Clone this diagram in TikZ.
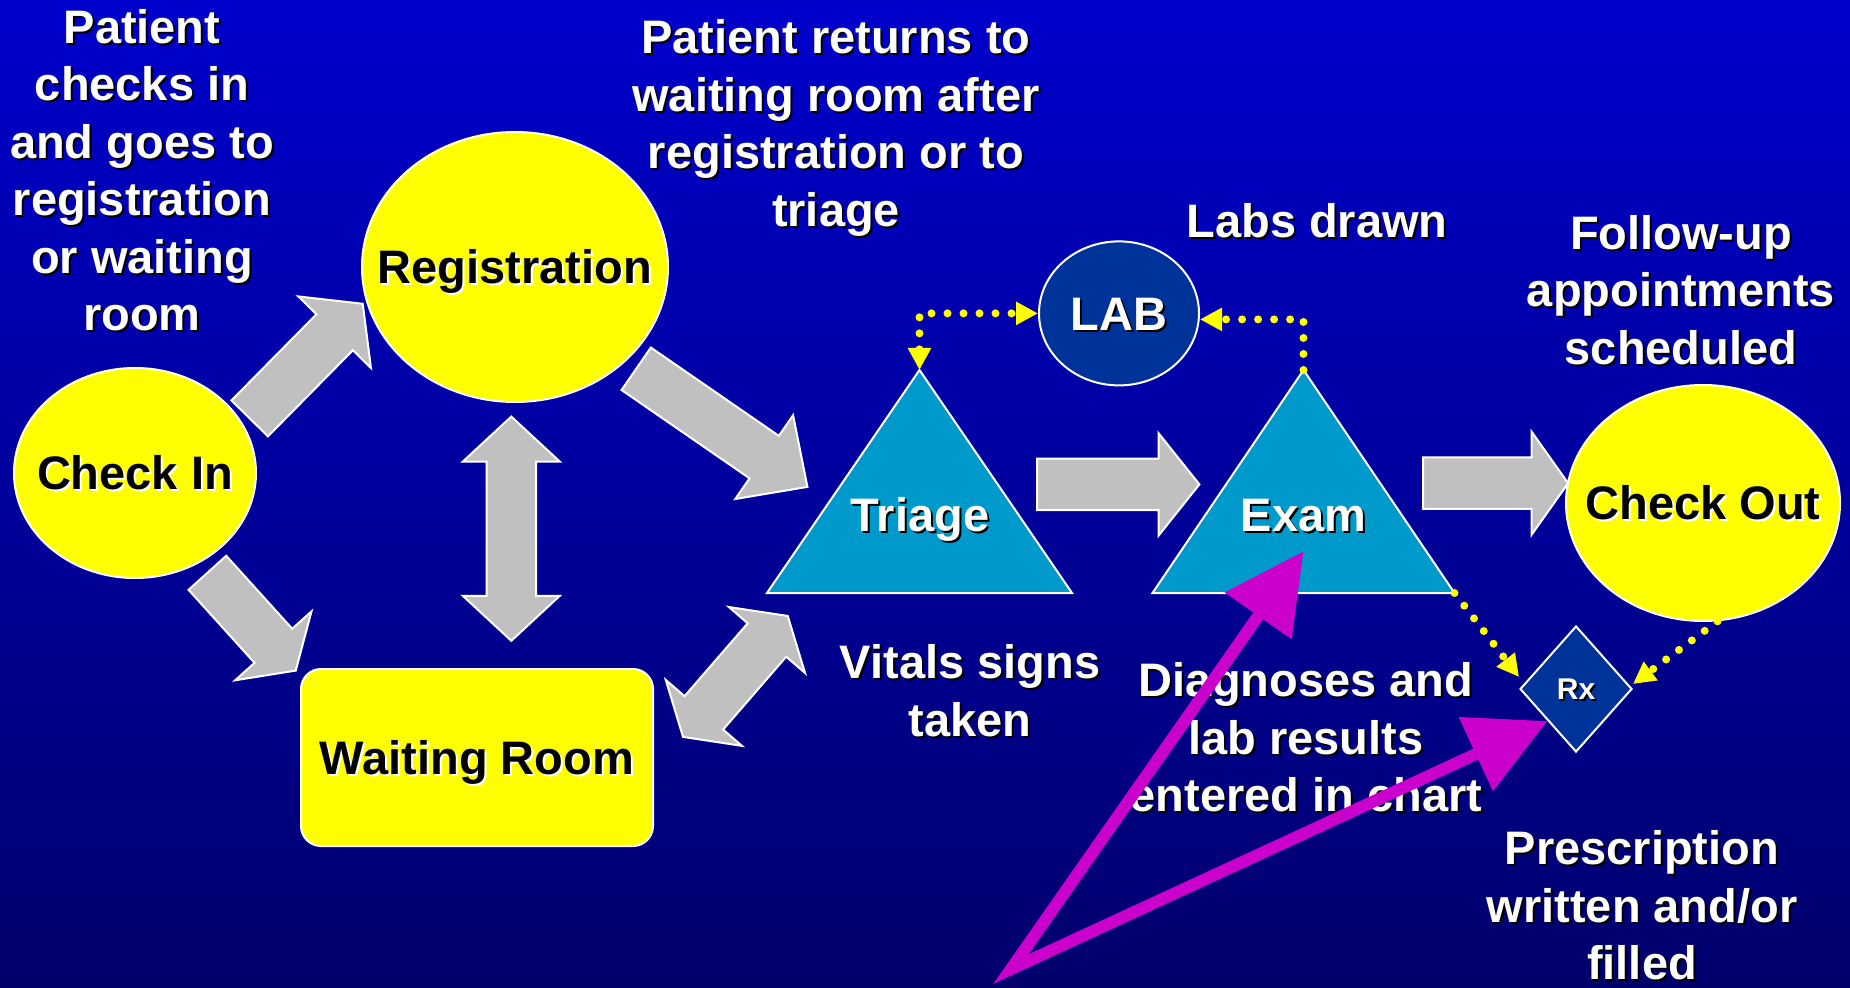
\documentclass[tikz,border=0pt]{standalone}
\usepackage{fontspec}
\setmainfont{Liberation Sans}
\usetikzlibrary{shapes.geometric,arrows.meta}
\definecolor{bgtop}{RGB}{0,0,204}
\definecolor{bgbot}{RGB}{0,0,108}
\definecolor{ylw}{RGB}{255,255,0}
\definecolor{navybox}{RGB}{0,51,153}
\definecolor{triblue}{RGB}{0,153,204}
\definecolor{gry}{RGB}{192,192,192}
\definecolor{magc}{RGB}{204,0,204}
\newcommand\bigfont{\fontsize{23.5pt}{28.75pt}\selectfont\bfseries}
\newcommand\rxfont{\fontsize{15pt}{18pt}\selectfont\bfseries}
\newcommand\shd[2]{\leavevmode\rlap{\hspace{1pt}\raisebox{-1pt}{\color{#1}#2}}#2}
\newcommand\wl[1]{\rule{0pt}{17.625pt}\shd{black}{#1}}
% single block arrow: tail x, tail y, angle, length, half shaft, half head, head length
\newcommand\garrow[7]{%
\begin{scope}[shift={(#1,#2)},rotate=#3]
\draw[blockarrow] (0,-#5) -- ({#4-#7},-#5) -- ({#4-#7},-#6) -- (#4,0) -- ({#4-#7},#6) -- ({#4-#7},#5) -- (0,#5) -- cycle;
\end{scope}}
% double block arrow: first tip x, y, angle, length, half shaft, half head, head length
\newcommand\gdarrow[7]{%
\begin{scope}[shift={(#1,#2)},rotate=#3]
\draw[blockarrow] (0,0) -- (#7,#6) -- (#7,#5) -- ({#4-#7},#5) -- ({#4-#7},#6) -- (#4,0) -- ({#4-#7},-#6) -- ({#4-#7},-#5) -- (#7,-#5) -- (#7,-#6) -- cycle;
\end{scope}}
\tikzset{
  blockarrow/.style={fill=gry, draw=white, line width=1pt, line join=miter},
  lbl/.style={text=white, font=\bigfont, align=center, inner sep=0pt, anchor=north},
  shapebox/.style={draw=white, line width=1pt, inner sep=0pt, text height=16.92pt, text depth=0pt, font=\bigfont},
  yel/.style={shapebox, fill=ylw, text=black},
  dk/.style={shapebox, fill=navybox, text=white},
  tri/.style={fill=triblue, draw=white, line width=1pt, line join=miter},
  tlabel/.style={text=white, font=\bigfont, inner sep=0pt, text height=16.92pt, text depth=0pt},
  dotc/.style={draw=ylw, line width=4pt, line cap=round, dash pattern=on 0pt off 8pt},
  ytip/.tip={Triangle[length=11pt,width=11pt]},
  mtip/.tip={Triangle[length=39.5pt,width=39.3pt]},
  magline/.style={draw=magc, line width=6pt, line join=miter, mtip-mtip}
}
\begin{document}
\begin{tikzpicture}[x=0.5pt,y=-0.5pt]
\useasboundingbox (0,0) rectangle (1850,988);
\shade[top color=bgtop,bottom color=bgbot] (0,0) rectangle (1850,988);

% grey block arrows
\garrow{249.7}{418.4}{45.4}{161}{25.6}{51}{40}
\garrow{207.4}{572.8}{-47.9}{131.8}{25.4}{51.4}{33.4}
\gdarrow{511.3}{640.8}{90}{224.2}{24.7}{48.5}{45}
\garrow{636.2}{368.8}{-34.6}{208}{25.8}{50.9}{52.5}
\gdarrow{683}{736.9}{49.1}{160}{25.5}{50.4}{31.8}
\garrow{1037}{484.4}{0}{162.4}{25.7}{51}{40.7}
\garrow{1423}{483.2}{0}{145.1}{25.7}{51.4}{36.4}

% main shapes
\node[yel, ellipse, minimum width=121pt, minimum height=105pt] (checkin) at (135,473) {\makebox[0pt]{\shd{white}{Check In}}};
\node[yel, ellipse, minimum width=153pt, minimum height=135pt] (reg) at (515,267) {\makebox[0pt]{\shd{white}{Registration}}};
\node[yel, rectangle, rounded corners=10pt, minimum width=176pt, minimum height=88.5pt] (wait) at (477,757.5) {\makebox[0pt]{\shd{white}{Waiting Room}}};
\node[dk, ellipse, minimum width=80pt, minimum height=72pt] (lab) at (1119,313.4) {\makebox[0pt]{\shd{black}{LAB}}};
\node[yel, ellipse, minimum width=137pt, minimum height=118pt] (checkout) at (1703,503) {\makebox[0pt]{\shd{white}{Check Out}}};
\node[dk, diamond, minimum width=56pt, minimum height=63pt, font=\rxfont, text height=10.8pt] (rx) at (1576,689) {\makebox[0pt]{\shd{black}{Rx}}};

\coordinate (triTop) at (919.5,370);
\coordinate (triBL) at (767,593);
\coordinate (triBR) at (1072,593);
\coordinate (exTop) at (1303.5,370);
\coordinate (exBL) at (1152.5,593);
\coordinate (exBR) at (1454.5,593);
\draw[tri] (triTop) -- (triBL) -- (triBR) -- cycle;
\draw[tri] (exTop) -- (exBL) -- (exBR) -- cycle;
\node[tlabel] (triage) at (920,514.9) {\shd{black}{Triage}};
\node[tlabel] (exam) at (1303.5,514.9) {\shd{black}{Exam}};

% text labels
\node[lbl] (t1) at (142,7.5) {\wl{Patient}\\\wl{checks in}\\\wl{and goes to}\\\wl{registration}\\\wl{or waiting}\\\wl{room}};
\node[lbl] (t2) at (836,18.2) {\wl{Patient returns to}\\\wl{waiting room after}\\\wl{registration or to}\\\wl{triage}};
\node[lbl] (t3) at (1317,202) {\wl{Labs drawn}};
\node[lbl] (t4) at (1681,213.8) {\wl{Follow-up}\\\wl{appointments}\\\wl{scheduled}};
\node[lbl] (t5) at (970,643.2) {\wl{Vitals signs}\\\wl{taken}};
\node[lbl] (t6) at (1306,661) {\wl{Diagnoses and}\\\wl{lab results}\\\wl{entered in chart}};
\node[lbl] (t7) at (1642,829) {\wl{Prescription}\\\wl{written and/or}\\\wl{filled}};

% dotted yellow connectors
\draw[dotc, ytip-ytip] (triTop) |- (lab.west);
\draw[dotc, -ytip] (exTop) |- ([yshift=-3pt]lab.east);
\draw[dotc, -ytip] (exBR) -- ([yshift=6pt]rx.west);
\draw[dotc, -ytip] (checkout.-83) -- ([yshift=2.5pt]rx.east);

% magenta pointers
\coordinate (mv) at (1011,969);
\draw[magline] ([yshift=-9.5pt]exam.south) -- (mv) -- (rx.south west);
\end{tikzpicture}
\end{document}
